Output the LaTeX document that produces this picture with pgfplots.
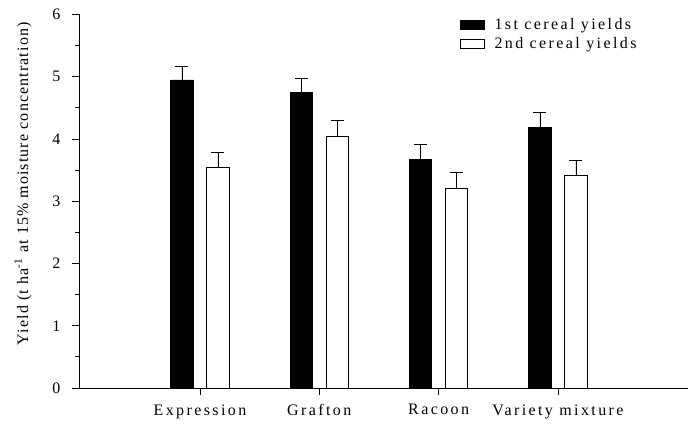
\documentclass[border=0pt]{standalone}
\usepackage{pgfplots}
\pgfplotsset{compat=1.18}
\usepackage{fontspec}
\setmainfont{Liberation Serif}
\newfontfamily\spaced{Liberation Serif}[LetterSpace=15]
\newfontfamily\lspaced{Liberation Serif}[LetterSpace=7]
\begin{document}
\begin{tikzpicture}
\useasboundingbox (-79bp,-37bp) rectangle (610bp,373.5bp+14.5bp);
\begin{axis}[
  scale only axis,
  width=609bp, height=373.5bp,
  at={(0,0)}, anchor=south west,
  ybar=13.7bp, bar width=22.3bp,
  xmin=-0.014, xmax=5.09,
  ymin=0, ymax=6,
  axis x line=bottom, axis y line=left,
  axis line style={line width=0.9bp, -},
  tick align=outside,
  xtick={1,2,3,4},
  xticklabels={Expression,Grafton,Racoon,Variety mixture},
  x tick label style={font=\fontsize{16bp}{18bp}\selectfont\spaced, yshift=-6bp},
  ytick={0,1,2,3,4,5,6},
  minor y tick num=1,
  y tick label style={font=\fontsize{16bp}{18bp}\selectfont, xshift=-8bp},
  /pgf/number format/assume math mode=true,
  major tick length=7bp,
  minor tick length=4bp,
  every tick/.style={black, line width=0.9bp},
  every axis y label/.style={at={(axis description cs:-0.092,0.547)}, rotate=90, anchor=center},
  ylabel={\fontsize{16bp}{18bp}\selectfont\lspaced Yield (t ha\textsuperscript{-1} at 15\% moisture concentration)},
  legend style={at={(axis description cs:0.625,0.995)}, anchor=north west, draw=none, fill=none,
    font=\fontsize{16bp}{18bp}\selectfont\spaced, row sep=2bp, inner sep=0pt},
  legend cell align=left,
  legend image code/.code={\draw[#1, line width=0.7bp] (0bp,-4.5bp) rectangle (24bp,4.5bp); \path (32bp,0bp);},
  error bars/y dir=plus, error bars/y explicit,
  error bars/error bar style={line width=0.9bp, black},
  error bars/error mark options={rotate=90, mark size=6.5bp, line width=0.9bp, black},
]
\addplot[fill=black, draw=black, line width=0.7bp]
  coordinates {(1,4.95) +- (0,0.22) (2,4.75) +- (0,0.23) (3,3.67) +- (0,0.235) (4,4.18) +- (0,0.24)};
\addlegendentry{1st cereal yields}
\addplot[fill=white, draw=black, line width=0.7bp]
  coordinates {(1,3.54) +- (0,0.25) (2,4.04) +- (0,0.26) (3,3.21) +- (0,0.26) (4,3.41) +- (0,0.25)};
\addlegendentry{2nd cereal yields}
\end{axis}
\end{tikzpicture}
\end{document}
